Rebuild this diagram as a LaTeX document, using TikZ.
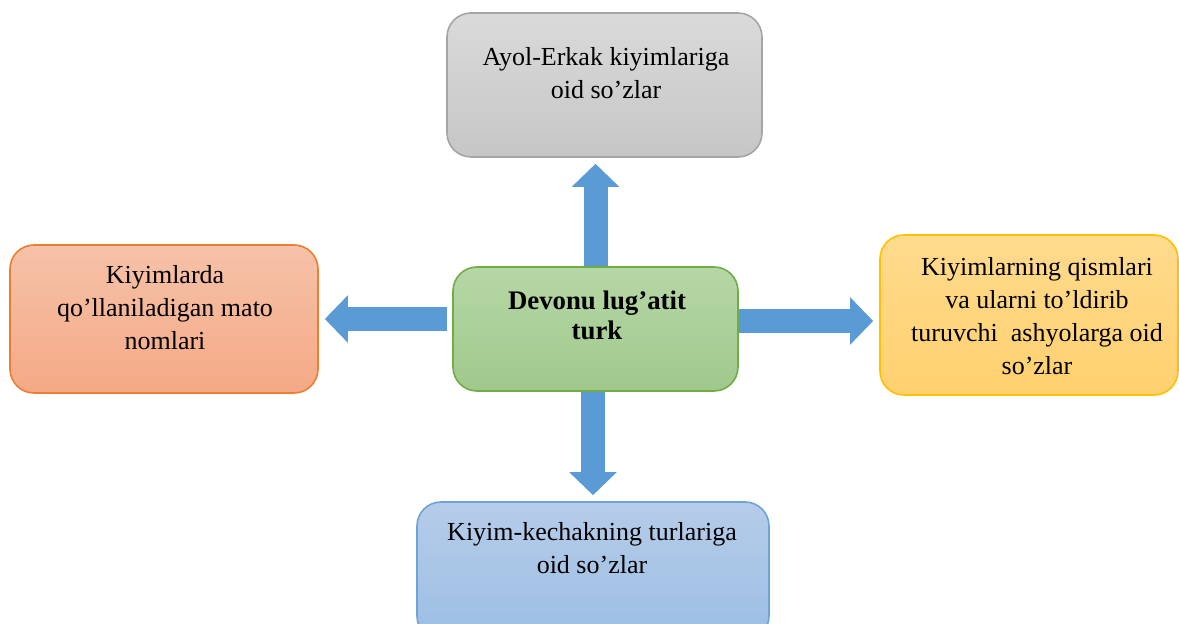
\documentclass[tikz,border=0pt]{standalone}
\usepackage{fontspec}
\setmainfont{Liberation Serif}
\usepackage{xcolor}
\usetikzlibrary{arrows.meta}
\usetikzlibrary{positioning}

\definecolor{graytop}{HTML}{DADADA}
\definecolor{graybot}{HTML}{C6C6C6}
\definecolor{grayline}{HTML}{A5A5A5}
\definecolor{orangetop}{HTML}{F6C2A9}
\definecolor{orangebot}{HTML}{F4A985}
\definecolor{orangeline}{HTML}{ED7D31}
\definecolor{greentop}{HTML}{B6D7A6}
\definecolor{greenbot}{HTML}{A0C88C}
\definecolor{greenline}{HTML}{70AD47}
\definecolor{yellowtop}{HTML}{FFDB8E}
\definecolor{yellowbot}{HTML}{FFD06E}
\definecolor{yellowline}{HTML}{FFC000}
\definecolor{bluetop}{HTML}{B6CCE9}
\definecolor{bluebot}{HTML}{9BBEE4}
\definecolor{blueline}{HTML}{6FA3D8}
\definecolor{arrowblue}{HTML}{5B9BD5}

\begin{document}
\begin{tikzpicture}[x=0.5pt, y=-0.5pt,
    box/.style={rounded corners=12pt, line width=0.8pt, inner sep=0pt},
    txt/.style={align=center, inner sep=0pt, font=\fontsize{13}{16.5}\selectfont},
    bigarrow/.style={draw=arrowblue, line width=12pt,
        -{Triangle[width=23pt,length=11.5pt]}, shorten >=3pt,
        preaction={draw=white, line width=15pt}}]
            \useasboundingbox (0,0) rectangle (1179,624);
            \clip (0,0) rectangle (1179,624);

            \node[box, draw=greenline, top color=greentop, bottom color=greenbot,
                  minimum width=142.5pt, minimum height=62pt] (dev) at (595.5,329) {};
            \node[box, draw=grayline, top color=graytop, bottom color=graybot,
                  minimum width=157.5pt, minimum height=72pt] (ayol) at (604.5,85) {};
            \node[box, draw=orangeline, top color=orangetop, bottom color=orangebot,
                  minimum width=154pt, minimum height=74pt] (mato) at (164,319) {};
            \node[box, draw=yellowline, top color=yellowtop, bottom color=yellowbot,
                  minimum width=149pt, minimum height=80pt] (qism) at (1029,315) {};
            \node[box, draw=blueline, top color=bluetop, bottom color=bluebot,
                  minimum width=176pt, minimum height=69pt] (kiyim) at (593,571) {};

            \coordinate (ra) at ([yshift=4pt]dev.east);

            \draw[bigarrow] (dev.north) -- (dev.north |- ayol.south);
            \draw[bigarrow, shorten <=2.5pt] (dev.west |- mato.east) -- (mato.east);
            \draw[bigarrow] (ra) -- (ra -| qism.west);
            \draw[bigarrow] (kiyim.north |- dev.south) -- (kiyim.north);

            \node[txt] (ayolt) at (606,73) {Ayol-Erkak kiyimlariga\\oid so’zlar};
            \node[txt] (matot) at (165,308) {Kiyimlarda\\qo’llaniladigan mato\\nomlari};
            \node[txt, font=\fontsize{13.4}{15}\selectfont\bfseries] (devt) at (597,315) {Devonu lug’atit\\turk};
            \node[txt] (qismt) at (1037,316) {Kiyimlarning qismlari\\va ularni to’ldirib\\turuvchi\ \ ashyolarga oid\\so’zlar};
            \node[txt] (kiyimt) at (592,548) {Kiyim-kechakning turlariga\\oid so’zlar};
        \end{tikzpicture}
\end{document}
